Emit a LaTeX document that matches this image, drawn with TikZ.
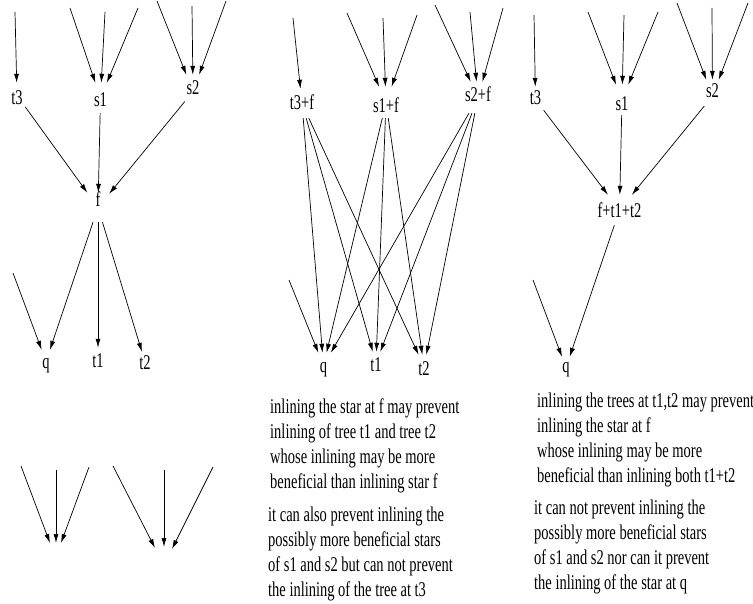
\documentclass[tikz,border=0pt]{standalone}
\usepackage{fontspec}
\setmainfont{Liberation Serif}[FakeStretch=0.69]
\usetikzlibrary{arrows.meta}
\tikzset{
  lbl/.style={inner sep=0pt, anchor=base, minimum width=16pt, font=\fontsize{21}{24.7}\selectfont},
  arr/.style={-{Latex[length=9pt,width=5pt]}, line width=0.7pt},
  para/.style={inner sep=0pt, anchor=base west, align=left, font=\fontsize{21}{24.7}\selectfont},
}
\begin{document}
\begin{tikzpicture}[x=1pt,y=-1pt]
\useasboundingbox (0,0) rectangle (753,604);
% ---------- panel 1 ----------
\node[lbl, text height=22pt, text depth=3pt] (at3) at (17,105) {t3};
\node[lbl, text height=24pt, text depth=6pt] (as1) at (100.5,107) {s1};
\node[lbl, text height=20pt, text depth=13pt] (as2) at (193,95) {s2};
\node[lbl, text height=14pt, text depth=15pt, minimum width=22pt] (af) at (98,207) {f};
\node[lbl, text height=18pt, text depth=5pt] (aq) at (46,368) {q};
\node[lbl, text height=19pt, text depth=3pt] (at1) at (98,367) {t1};
\node[lbl, text height=17pt, text depth=3pt] (at2) at (145,369) {t2};
\coordinate (a0) at (15,12);
\coordinate (a1) at (70,8);
\coordinate (a2) at (105,12);
\coordinate (a3) at (138,8);
\coordinate (a4) at (157,1);
\coordinate (a5) at (192,6);
\coordinate (a6) at (226,1);
\coordinate (a7) at (13,273);
\draw[arr] (a0) -- (at3);
\draw[arr] (a1) -- (as1);
\draw[arr] (a2) -- (as1);
\draw[arr] (a3) -- (as1);
\draw[arr] (a4) -- (as2);
\draw[arr] (a5) -- (as2);
\draw[arr] (a6) -- (as2);
\draw[arr] (a7) -- (aq);
\draw[arr] (at3) -- (af);
\draw[arr] (as1) -- (af);
\draw[arr] (as2) -- (af);
\draw[arr] (af) -- (aq);
\draw[arr] (af) -- (at1);
\draw[arr] (af) -- (at2);
% ---------- bottom-left stars ----------
\coordinate (d1) at (21,466);
\coordinate (d2) at (56,470);
\coordinate (d3) at (89,467);
\coordinate (d1e) at (50,543);
\coordinate (d2e) at (56,543);
\coordinate (d3e) at (61,543);
\coordinate (e1) at (113,466);
\coordinate (e2) at (164,470);
\coordinate (e3) at (213,467);
\coordinate (e1e) at (155,548);
\coordinate (e2e) at (164,547);
\coordinate (e3e) at (172,549);
\draw[arr] (d1) -- (d1e);
\draw[arr] (d2) -- (d2e);
\draw[arr] (d3) -- (d3e);
\draw[arr] (e1) -- (e1e);
\draw[arr] (e2) -- (e2e);
\draw[arr] (e3) -- (e3e);
% ---------- panel 2 ----------
\node[lbl, text height=21pt, text depth=8pt] (bt3) at (302,110) {t3+f};
\node[lbl, text height=26pt, text depth=5pt] (bs1) at (386,113) {s1+f};
\node[lbl, text height=20pt, text depth=11pt] (bs2) at (478,102) {s2+f};
\node[lbl, text height=20pt, text depth=5pt] (bq) at (323.5,373) {q};
\node[lbl, text height=19pt, text depth=3pt] (bt1) at (376,371) {t1};
\node[lbl, text height=20pt, text depth=3pt] (bt2) at (424,375) {t2};
\coordinate (b0) at (293,18);
\coordinate (b1) at (347,13);
\coordinate (b2) at (383,18);
\coordinate (b3) at (417,15);
\coordinate (b4) at (435,5);
\coordinate (b5) at (470,12);
\coordinate (b6) at (503,8);
\coordinate (b7) at (289,280);
\draw[arr] (b0) -- (bt3);
\draw[arr] (b1) -- (bs1);
\draw[arr] (b2) -- (bs1);
\draw[arr] (b3) -- (bs1);
\draw[arr] (b4) -- (bs2);
\draw[arr] (b5) -- (bs2);
\draw[arr] (b6) -- (bs2);
\draw[arr] (b7) -- (bq);
\draw[arr] (bt3) -- (bq);
\draw[arr] (bt3) -- (bt1);
\draw[arr] (bt3) -- (bt2);
\draw[arr] (bs1) -- (bq);
\draw[arr] (bs1) -- (bt1);
\draw[arr] (bs1) -- (bt2);
\draw[arr] (bs2) -- (bq);
\draw[arr] (bs2) -- (bt1);
\draw[arr] (bs2) -- (bt2);
% multi-line nodes: base anchor sits on the last line
\node[para] (p2a) at (270,488) {inlining the star at f may prevent\\inlining of tree t1 and tree t2\\whose inlining may be more\\beneficial than inlining star f};
\node[para] (p2b) at (268,596) {it can also prevent inlining the\\possibly more beneficial stars\\of s1 and s2 but can not prevent\\the inlining of the tree at t3};
% ---------- panel 3 ----------
\node[lbl, text height=18pt, text depth=7pt] (ct3) at (535.5,105) {t3};
\node[lbl, text height=26pt, text depth=4pt] (cs1) at (622,111) {s1};
\node[lbl, text height=18pt, text depth=14pt] (cs2) at (712.5,98) {s2};
\node[lbl, text height=23pt, text depth=7pt] (cf) at (619.5,218) {f+t1+t2};
\node[lbl, text height=16pt, text depth=5pt] (cq) at (566,373) {q};
\coordinate (c0) at (534,15);
\coordinate (c1) at (588,12);
\coordinate (c2) at (624,15);
\coordinate (c3) at (658,12);
\coordinate (c4) at (677,3);
\coordinate (c5) at (712,8);
\coordinate (c6) at (748,3);
\coordinate (c7) at (533,280);
\draw[arr] (c0) -- (ct3);
\draw[arr] (c1) -- (cs1);
\draw[arr] (c2) -- (cs1);
\draw[arr] (c3) -- (cs1);
\draw[arr] (c4) -- (cs2);
\draw[arr] (c5) -- (cs2);
\draw[arr] (c6) -- (cs2);
\draw[arr] (c7) -- (cq);
\draw[arr] (ct3) -- (cf);
\draw[arr] (cs1) -- (cf);
\draw[arr] (cs2) -- (cf);
\draw[arr] (cf) -- (cq);
\node[para] (p3a) at (537,482) {inlining the trees at t1,t2 may prevent\\inlining the star at f\\whose inlining may be more\\beneficial than inlining both t1+t2};
\node[para] (p3b) at (534,589) {it can not prevent inlining the\\possibly more beneficial stars\\of s1 and s2 nor can it prevent\\the inlining of the star at q};
\end{tikzpicture}
\end{document}
